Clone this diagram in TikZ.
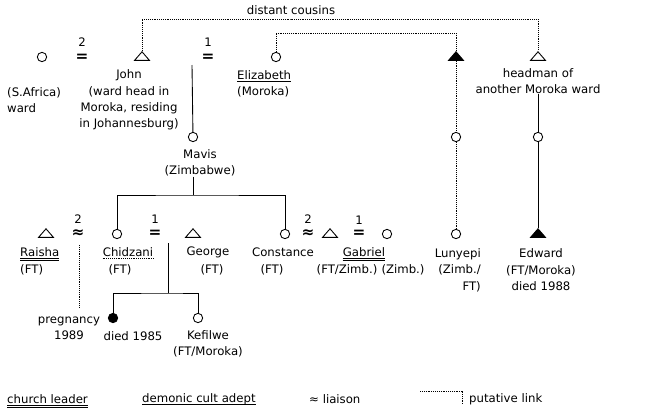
\documentclass[tikz,border=0pt]{standalone}
\usepackage{fontspec}
\setmainfont{DejaVu Sans}
\usepackage{tikz}
\usetikzlibrary{shapes.geometric}

\tikzset{
  fem/.style={circle, draw, line width=0.75pt, minimum size=0.28cm, inner sep=0pt},
  male/.style={isosceles triangle, shape border rotate=90, isosceles triangle stretches,
    draw, line width=0.75pt, minimum width=0.45cm, minimum height=0.26cm, inner sep=0pt},
  dead/.style={fill=black},
  lbl/.style={inner sep=0pt, font=\fontsize{10}{14}\selectfont},
  eq/.style={inner sep=0pt, font=\fontsize{13}{13}\selectfont\bfseries},
  kin/.style={line width=0.75pt},
  putative/.style={line width=0.7pt, dash pattern=on 0.8pt off 0.8pt},
  ul/.style={line width=0.6pt},
}

\begin{document}
\begin{tikzpicture}[x=0.03cm, y=-0.03cm]
\useasboundingbox (0,0) rectangle (650,410);

% first generation
\node [fem] (ward) at (42,57) {};
\node [lbl] (two1) at (82,42) {2};
\node [eq] (eq2) at (82,58) {=};
\node [male] (john) at (142,57) {};
\node [lbl] (one1) at (208,42) {1};
\node [eq] (eq1) at (208,58) {=};
\node [fem] (eliz) at (276,57) {};
\node [male, dead] (lfather) at (456,57) {};
\node [male] (headman) at (538,57) {};

\node [lbl] (cousinslbl) at (291,10) {distant cousins};
\node [lbl, align=left, anchor=west] (wardlbl) at (7,100) {(S.Africa)\\ward};
\node [lbl, align=center] (johnlbl) at (129,100) {John\\(ward head in\\Moroka, residing\\in Johannesburg)};
\node [lbl, anchor=west] (elizname) at (237,75) {Elizabeth};
\node [lbl, anchor=west] (elizlbl) at (237,92) {(Moroka)};
\node [lbl, align=center] (headmanlbl) at (538,81) {headman of\\another Moroka ward};

\coordinate (cousins) at (291,19);
\coordinate (cousins2) at (366,33);
\draw [putative] (john.apex) |- (cousins) -| (headman.apex);
\draw [putative] (eliz) |- (cousins2) -| (lfather.apex);

% second generation
\coordinate (m1) at (192,65);
\node [fem] (mavis) at (193,137) {};
\node [lbl, align=center] (mavislbl) at (200,163) {Mavis\\(Zimbabwe)};
\node [fem] (lmid) at (456,137) {};
\node [fem] (emid) at (538,137) {};

% third generation
\node [male] (raisha) at (46,234) {};
\node [lbl] (two2) at (78,219) {2};
\node [eq] (liais1) at (78,234) {≈};
\node [fem] (chidzani) at (117,234) {};
\node [lbl] (one2) at (155,219) {1};
\node [eq] (eq3) at (155,234) {=};
\node [male] (george) at (193,234) {};
\node [fem] (constance) at (285,234) {};
\node [lbl] (two3) at (308,219) {2};
\node [eq] (liais2) at (308,234) {≈};
\node [male] (gabriel) at (330,234) {};
\node [lbl] (one3) at (359,220) {1};
\node [eq] (eq4) at (359,234) {=};
\node [fem] (gwife) at (387,234) {};
\node [fem] (lunyepi) at (456,234) {};
\node [male, dead] (edward) at (538,234) {};

\draw [kin] (m1) -- (mavis);
\draw [putative] (lfather) -- (lmid) -- (lunyepi);
\draw [kin] (headmanlbl.south -| emid) -- (emid) -- (edward);

\node [lbl, anchor=west] (raishaname) at (20,252) {Raisha};
\node [lbl, anchor=west] (raishalbl) at (20,270) {(FT)};
\node [lbl] (chidzaniname) at (128,252) {Chidzani};
\node [lbl] (chidzanilbl) at (120,270) {(FT)};
\node [lbl] (georgename) at (208,252) {George};
\node [lbl] (georgelbl) at (212,270) {(FT)};
\node [lbl] (constancename) at (283,252) {Constance};
\node [lbl] (constancelbl) at (272,270) {(FT)};
\node [lbl] (gabrielname) at (364,252) {Gabriel};
\node [lbl] (gabriellbl) at (347,270) {(FT/Zimb.)};
\node [lbl] (gwifelbl) at (403,270) {(Zimb.)};
\node [lbl, align=right, anchor=east] (lunyepilbl) at (481,270) {Lunyepi\\(Zimb./\\FT)};
\node [lbl, align=center] (edwardlbl) at (541,270) {Edward\\(FT/Moroka)\\died 1988};

\coordinate (sibs) at (193,195);
\draw [kin] (mavislbl.south -| mavis) -- (sibs);
\draw [kin] (chidzani) |- (sibs) -| (constance);

% fourth generation
\coordinate (l1) at (79,245);
\coordinate (preg) at (79,307);
\draw [putative] (l1) -- (preg);
\node [lbl, align=center] (preglbl) at (69,328) {pregnancy\\1989};

\coordinate (m2) at (168,243);
\coordinate (kids) at (168,293);
\node [fem, dead] (child) at (113,318) {};
\node [fem] (kefilwe) at (198,318) {};
\draw [kin] (m2) -- (kids);
\draw [kin] (child) |- (kids) -| (kefilwe);
\node [lbl] (childlbl) at (133,336) {died 1985};
\node [lbl, align=center] (kefilwelbl) at (208,344) {Kefilwe\\(FT/Moroka)};

% legend
\node [lbl, anchor=west] (leg1) at (7,399) {church leader};
\node [lbl, anchor=west] (leg2) at (142,399) {demonic cult adept};
\node [lbl, anchor=west] (leg3) at (309,399) {≈ liaison};
\coordinate (legA) at (420,391);
\coordinate (legB) at (462,405);
\draw [putative] (legA) -| (legB);
\node [lbl, anchor=west] (leg4) at (469,399) {putative link};

% underlines
\foreach \n in {raishaname, gabrielname, leg1} {
  \draw [ul] ([yshift=-2pt]\n.base west) -- ([yshift=-2pt]\n.base east);
  \draw [ul] ([yshift=-3.6pt]\n.base west) -- ([yshift=-3.6pt]\n.base east);
}
\foreach \n in {elizname, leg2}
  \draw [ul] ([yshift=-2pt]\n.base west) -- ([yshift=-2pt]\n.base east);
\draw [putative] ([yshift=-2pt]chidzaniname.base west) -- ([yshift=-2pt]chidzaniname.base east);
\end{tikzpicture}
\end{document}
